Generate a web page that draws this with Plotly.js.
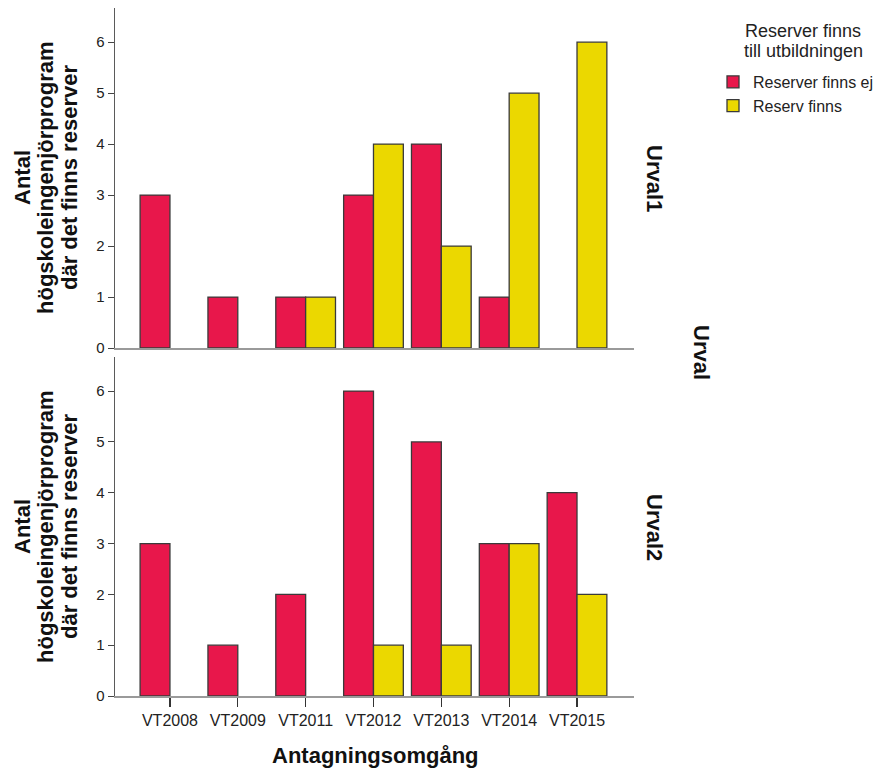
<!DOCTYPE html>
<html>
<head>
<meta charset="utf-8">
<script src="https://cdn.plot.ly/plotly-3.0.1.min.js"></script>
<style>html,body{margin:0;padding:0;background:#fff}#chart{width:881px;height:769px}</style>
</head>
<body>
<div id="chart"></div>
<script>
// ---- data ----
const categories = ["VT2008", "VT2009", "VT2011", "VT2012", "VT2013", "VT2014", "VT2015"];
const seriesNames = ["Reserver finns ej", "Reserv finns"];
const urval1_ej = [3, 1, 1, 3, 4, 1, null];
const urval1_finns = [null, null, 1, 4, 2, 5, 6];
const urval2_ej = [3, 1, 2, 6, 5, 3, 4];
const urval2_finns = [null, null, null, 1, 1, 3, 2];
const panelLabels = ["Urval1", "Urval2"];
const facetTitle = "Urval";
const yTitleLines = ["Antal", "högskoleingenjörprogram", "där det finns reserver"];
const xTitle = "Antagningsomgång";
const legendTitleLines = ["Reserver finns", "till utbildningen"];

// ---- styling ----
const W = 881, H = 769;
const RED = "#e8174b", YEL = "#ebd800", EDGE = "#3a3a3a";
const FONT = "Liberation Sans, Arial, sans-serif";
const px = v => v / W;
const py = v => 1 - v / H;

function bar(y, name, color, xa, ya, show) {
  return {
    type: "bar", x: categories, y: y, name: name,
    xaxis: xa, yaxis: ya, showlegend: show, legendgroup: name,
    marker: {color: color, line: {color: EDGE, width: 1.3}},
    hoverinfo: "x+y+name"
  };
}

const data = [
  bar(urval2_ej, seriesNames[0], RED, "x", "y", true),
  bar(urval2_finns, seriesNames[1], YEL, "x", "y", true),
  bar(urval1_ej, seriesNames[0], RED, "x2", "y2", false),
  bar(urval1_finns, seriesNames[1], YEL, "x2", "y2", false)
];

const yCommon = {
  range: [0, 6.67], dtick: 1, tick0: 0,
  showgrid: false, zeroline: false,
  showline: true, linecolor: "#5a5a5a", linewidth: 1.3,
  ticks: "outside", ticklen: 6, tickcolor: "#444", tickwidth: 1,
  tickfont: {family: FONT, size: 15, color: "#222"},
  fixedrange: true
};
const xDomain = [px(115), px(634)];
const xRange = [-0.81, 6.84];

const annotations = [];
// y titles (three lines each), both panels
const lineX = [22, 45, 69];
[178, 527].forEach(cy => {
  yTitleLines.forEach((t, i) => {
    annotations.push({
      xref: "paper", yref: "paper", x: px(lineX[i]), y: py(cy),
      xanchor: "center", yanchor: "middle", textangle: -90, showarrow: false,
      text: t, font: {family: FONT, size: 22, color: "#111", weight: "bold"}
    });
  });
});
// panel labels
annotations.push({xref: "paper", yref: "paper", x: px(655), y: py(178), xanchor: "center", yanchor: "middle",
  textangle: 90, showarrow: false, text: panelLabels[0], font: {family: FONT, size: 22, color: "#111", weight: "bold"}});
annotations.push({xref: "paper", yref: "paper", x: px(655), y: py(527), xanchor: "center", yanchor: "middle",
  textangle: 90, showarrow: false, text: panelLabels[1], font: {family: FONT, size: 22, color: "#111", weight: "bold"}});
annotations.push({xref: "paper", yref: "paper", x: px(702), y: py(352), xanchor: "center", yanchor: "middle",
  textangle: 90, showarrow: false, text: facetTitle, font: {family: FONT, size: 22, color: "#111", weight: "bold"}});
// x title
annotations.push({xref: "paper", yref: "paper", x: px(375), y: py(755), xanchor: "center", yanchor: "middle",
  showarrow: false, text: xTitle, font: {family: FONT, size: 22, color: "#111", weight: "bold"}});
// legend title lines
legendTitleLines.forEach((t, i) => {
  annotations.push({xref: "paper", yref: "paper", x: px(803), y: py(31 + i * 19.5), xanchor: "center", yanchor: "middle",
    showarrow: false, text: t, font: {family: FONT, size: 18, color: "#222"}});
});

const layout = {
  width: W, height: H,
  margin: {l: 0, r: 0, t: 0, b: 0, pad: 0},
  paper_bgcolor: "#fff", plot_bgcolor: "#fff",
  barmode: "group", bargap: 0.12, bargroupgap: 0,
  font: {family: FONT, color: "#222"},
  xaxis: {
    domain: xDomain, anchor: "y", type: "category", range: xRange,
    showgrid: false, zeroline: false, showline: true, linecolor: "#9a9a9a", linewidth: 1.5,
    ticks: "outside", ticklen: 9, tickcolor: "#333", tickwidth: 1.3,
    tickfont: {family: FONT, size: 16, color: "#222"}, fixedrange: true
  },
  xaxis2: {
    domain: xDomain, anchor: "y2", matches: "x", type: "category", range: xRange,
    showgrid: false, zeroline: false, showline: true, linecolor: "#9a9a9a", linewidth: 1.5,
    ticks: "", showticklabels: false, fixedrange: true
  },
  yaxis: Object.assign({}, yCommon, {domain: [py(696), py(357)], anchor: "x"}),
  yaxis2: Object.assign({}, yCommon, {domain: [py(348), py(8)], anchor: "x2"}),
  showlegend: true,
  legend: {
    x: px(713), y: py(65), xanchor: "left", yanchor: "top",
    bgcolor: "rgba(0,0,0,0)", borderwidth: 0,
    font: {family: FONT, size: 16, color: "#222"},
    traceorder: "normal", tracegroupgap: 0, itemwidth: 30
  },
  annotations: annotations
};

Plotly.newPlot("chart", data, layout, {displayModeBar: false, staticPlot: true});
</script>
</body>
</html>
